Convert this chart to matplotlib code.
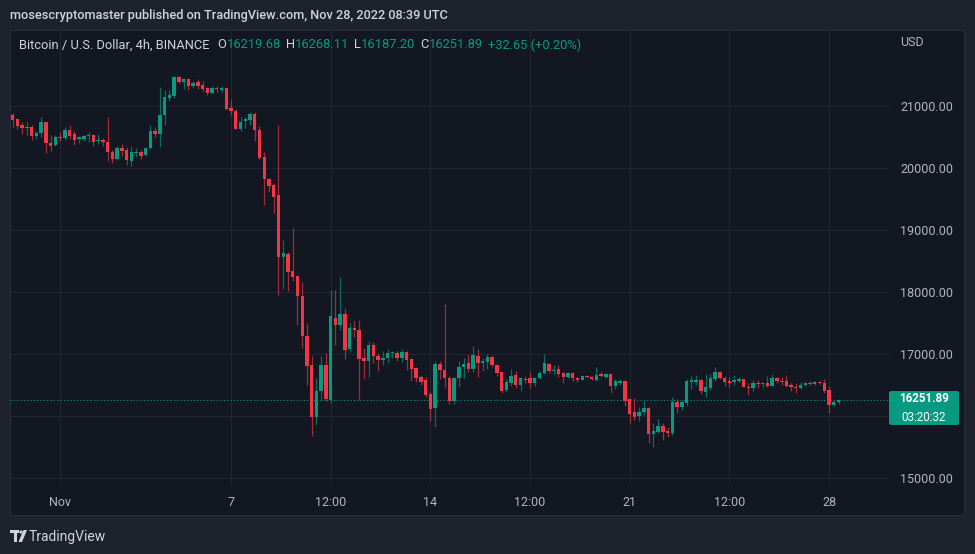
import matplotlib
matplotlib.use("Agg")
import matplotlib.pyplot as plt
from matplotlib.patches import Rectangle, FancyBboxPatch, Polygon, Circle
import numpy as np
import pandas as pd

# ---------------- data ----------------
start_time = "2022-10-30 08:00"
opens = [20850, 20785, 20694, 20656, 20646, 20506, 20554, 20731, 20399, 20366,
         20495, 20474, 20608, 20538, 20463, 20463, 20501, 20527, 20431, 20452,
         20409, 20259, 20141, 20313, 20286, 20114, 20232, 20248, 20205, 20313,
         20597, 20543, 20850, 21118, 21161, 21456, 21376, 21430, 21311, 21376,
         21333, 21279, 21204, 21279, 21255, 21274, 20962, 20919, 20624, 20753,
         20769, 20866, 20608, 20168, 19819, 19722, 19551, 18558, 18611, 18332,
         18257, 17930, 17286, 16814, 15979, 16403, 16825, 16262, 17581, 17464,
         17635, 17072, 17420, 17393, 16928, 16891, 17143, 16971, 16902, 16928,
         17009, 17009, 16928, 17036, 16918, 16767, 16622, 16580, 16349, 16123,
         16837, 16741, 16617, 16247, 16606, 16794, 16848, 16751, 16966, 16848,
         16875, 16955, 16821, 16703, 16419, 16537, 16660, 16499, 16601, 16606,
         16526, 16617, 16687, 16837, 16730, 16751, 16698, 16633, 16698, 16617,
         16580, 16644, 16633, 16580, 16671, 16622, 16676, 16488, 16526, 16564,
         16274, 16070, 15995, 16070, 16123, 15705, 15748, 15839, 15758, 15721,
         16231, 16150, 16215, 16553, 16553, 16580, 16392, 16456, 16590, 16708,
         16617, 16569, 16542, 16569, 16590, 16472, 16445, 16537, 16515, 16526,
         16488, 16617, 16564, 16564, 16499, 16472, 16445, 16499, 16537, 16515,
         16547, 16537, 16419, 16172, 16219.68]
highs = [20882, 20796, 20731, 20742, 20688, 20597, 20823, 20742, 20527, 20527,
         20581, 20651, 20688, 20597, 20517, 20527, 20570, 20543, 20543, 20474,
         20823, 20291, 20345, 20383, 20329, 20345, 20313, 20291, 20329, 20688,
         20662, 21306, 21242, 21242, 21483, 21483, 21440, 21440, 21387, 21419,
         21387, 21295, 21322, 21311, 21320, 21290, 21097, 20936, 20812, 20812,
         20903, 20903, 20678, 20259, 19830, 19754, 20694, 18842, 18638, 19025,
         18273, 18166, 17495, 16966, 16606, 16966, 17013, 18031, 18031, 18246,
         17742, 17500, 17527, 17554, 17090, 17213, 17197, 17009, 17052, 17073,
         17052, 17047, 17073, 17047, 16928, 16784, 16660, 16622, 16392, 16891,
         16891, 17803, 16644, 16622, 16891, 16928, 16982, 17127, 17084, 16928,
         16998, 16966, 16837, 16714, 16590, 16762, 16730, 16622, 16644, 16708,
         16622, 16730, 16998, 16848, 16821, 16821, 16714, 16714, 16708, 16633,
         16655, 16655, 16644, 16794, 16708, 16698, 16698, 16590, 16590, 16580,
         16285, 16285, 16140, 16247, 16140, 15882, 15946, 15882, 15818, 16301,
         16268, 16258, 16590, 16644, 16665, 16590, 16676, 16676, 16784, 16719,
         16644, 16622, 16655, 16622, 16601, 16537, 16580, 16580, 16547, 16644,
         16676, 16633, 16633, 16660, 16526, 16526, 16547, 16547, 16558, 16558,
         16558, 16590, 16483, 16247, 16268.11]
lows = [20651, 20624, 20544, 20527, 20447, 20463, 20490, 20237, 20275, 20345,
        20436, 20452, 20463, 20366, 20399, 20436, 20420, 20356, 20377, 20345,
        20103, 20071, 20125, 20184, 20044, 20034, 20168, 20141, 20194, 20302,
        20490, 20329, 20688, 21080, 21123, 21365, 21258, 21242, 21279, 21268,
        21225, 21172, 21188, 21215, 21215, 20930, 20850, 20620, 20597, 20640,
        20689, 20425, 20141, 19390, 19615, 19272, 17941, 18042, 18021, 18182,
        17468, 17093, 16503, 15683, 15855, 16234, 16234, 16207, 17142, 17393,
        16916, 17029, 17270, 16258, 16590, 16623, 16848, 16730, 16821, 16848,
        16928, 16886, 16875, 16741, 16569, 16553, 16499, 16311, 15925, 15818,
        16590, 16462, 16188, 16193, 16472, 16606, 16714, 16714, 16622, 16730,
        16751, 16794, 16644, 16376, 16392, 16483, 16445, 16408, 16537, 16445,
        16483, 16590, 16676, 16687, 16676, 16622, 16537, 16606, 16569, 16547,
        16574, 16612, 16580, 16569, 16622, 16606, 16365, 16429, 16499, 16161,
        15882, 15936, 15914, 16016, 15571, 15496, 15732, 15614, 15657, 15694,
        16043, 16097, 16161, 16429, 16499, 16349, 16311, 16419, 16569, 16601,
        16483, 16472, 16504, 16547, 16461, 16338, 16408, 16445, 16472, 16472,
        16483, 16526, 16499, 16472, 16408, 16376, 16429, 16483, 16499, 16499,
        16515, 16376, 16054, 16161, 16187.20]
closes = [20769, 20678, 20640, 20635, 20517, 20554, 20731, 20393, 20356, 20495,
          20474, 20608, 20506, 20452, 20490, 20501, 20527, 20420, 20452, 20409,
          20248, 20141, 20313, 20275, 20125, 20248, 20259, 20184, 20318, 20597,
          20543, 20855, 21134, 21172, 21456, 21376, 21430, 21311, 21365, 21322,
          21258, 21204, 21279, 21258, 21275, 20936, 20919, 20624, 20742, 20785,
          20866, 20608, 20152, 19819, 19711, 19524, 18558, 18622, 18327, 18246,
          17925, 17281, 16803, 15979, 16408, 16814, 16278, 17603, 17464, 17646,
          17061, 17420, 17377, 16926, 16891, 17143, 16966, 16902, 16939, 17009,
          17025, 16928, 17036, 16902, 16751, 16617, 16553, 16338, 16107, 16837,
          16741, 16606, 16247, 16617, 16794, 16837, 16751, 16982, 16848, 16891,
          16955, 16821, 16698, 16408, 16553, 16644, 16499, 16606, 16580, 16526,
          16617, 16687, 16848, 16730, 16741, 16676, 16622, 16698, 16606, 16580,
          16644, 16622, 16590, 16665, 16644, 16676, 16483, 16564, 16569, 16247,
          16032, 15989, 16070, 16123, 15710, 15764, 15839, 15737, 15732, 16231,
          16150, 16231, 16564, 16574, 16580, 16408, 16462, 16606, 16708, 16617,
          16553, 16537, 16580, 16590, 16472, 16445, 16537, 16515, 16537, 16488,
          16606, 16564, 16547, 16488, 16461, 16445, 16499, 16537, 16515, 16547,
          16526, 16408, 16172, 16225, 16251.89]

price_ticks = [15000, 16000, 17000, 18000, 19000, 20000, 21000]
time_tick_times = ["2022-11-01 00:00", "2022-11-07 00:00", "2022-11-10 12:00",
                   "2022-11-14 00:00", "2022-11-17 12:00", "2022-11-21 00:00",
                   "2022-11-24 12:00", "2022-11-28 00:00"]
time_tick_labels = ["Nov", "7", "12:00", "14", "12:00", "21", "12:00", "28"]
last_price = 16251.89
countdown = "03:20:32"
header = "mosescryptomaster published on TradingView.com, Nov 28, 2022 08:39 UTC"
symbol = "Bitcoin / U.S. Dollar, 4h, BINANCE"
ohlc_labels = ["O", "H", "L", "C"]
ohlc_values = ["16219.68", "16268.11", "16187.20", "16251.89"]
change_text = "+32.65 (+0.20%)"

# ---------------- style ----------------
OUTER = "#1e222d"
PANEL = "#131722"
BORDER = "#2a2e39"
GRID = "#222631"
UP = "#089981"
DOWN = "#f23645"
TXT = "#d1d4dc"
AXT = "#b2b5be"
FONT = "Roboto"
plt.rcParams["font.family"] = [FONT, "DejaVu Sans"]

W, H = 975, 554
fig = plt.figure(figsize=(W / 100, H / 100), dpi=100, facecolor=OUTER)

# background panel
bg = fig.add_axes([0, 0, 1, 1], zorder=-10)
bg.set_xlim(0, W); bg.set_ylim(H, 0); bg.axis("off")
bg.add_patch(Rectangle((10, 30), 954, 485, facecolor=PANEL, edgecolor=BORDER, lw=0.8))

# main chart axes
ax = fig.add_axes([10 / W, 1 - 485 / H, 879 / W, 455 / H], zorder=0)
ax.set_facecolor("none")
for s in ax.spines.values():
    s.set_visible(False)

times = pd.date_range(start_time, periods=len(opens), freq="4h")
x = np.arange(len(times))
o = np.array(opens); h = np.array(highs); l = np.array(lows); c = np.array(closes)
up = c >= o
cols = np.where(up, UP, DOWN)
ax.vlines(x, l, h, colors=cols, lw=0.9, alpha=0.65, zorder=2)
body_h = np.maximum(np.abs(c - o), 14)
body_b = np.minimum(o, c)
ax.bar(x, body_h, bottom=body_b, width=0.72, color=cols, lw=0, zorder=3)

ax.set_ylim(14889, 22216)
ax.set_xlim(-0.57, 184.64)

tick_pos = times.get_indexer(pd.to_datetime(time_tick_times))
ax.set_xticks(tick_pos)
ax.set_xticklabels(time_tick_labels)
ax.yaxis.tick_right()
ax.set_yticks(price_ticks)
# the last-price tag covers the price label nearest to it
ax.set_yticklabels(["" if abs(v - last_price) < 400 else f"{v:.2f}" for v in price_ticks])
ax.tick_params(axis="y", length=0, pad=8, labelsize=9, labelcolor=AXT)
ax.tick_params(axis="x", length=0, pad=8, labelsize=9, labelcolor=AXT)
ax.grid(True, color=GRID, lw=0.8)
ax.set_axisbelow(True)
ax.axhline(last_price, color=UP, lw=0.8, ls=(0, (1, 2)), zorder=1)

# overlay for texts and price tag
ov = fig.add_axes([0, 0, 1, 1], zorder=10)
ov.set_xlim(0, W); ov.set_ylim(H, 0); ov.axis("off")
ov.patch.set_visible(False)

ov.add_patch(FancyBboxPatch((889, 391), 70, 34, boxstyle="round,pad=0,rounding_size=2",
                            facecolor=UP, edgecolor="none"))
ov.text(924, 399, f"{last_price:.2f}", color="white", ha="center", va="center",
        fontsize=8.4, fontweight="bold")
ov.text(924, 417.5, countdown, color="white", ha="center", va="center", fontsize=8.4)
ov.text(900, 43, "USD", color=AXT, ha="left", va="center", fontsize=9)

ov.text(10, 16, header, color=TXT, ha="left", va="center", fontsize=9.2, fontweight="medium")

# legend line
fig.canvas.draw()
r = fig.canvas.get_renderer()
pieces = [(symbol, TXT, 8)]
for lab, val in zip(ohlc_labels, ohlc_values):
    pieces.append((lab, TXT, 0))
    pieces.append((val, UP, 5))
pieces.append((change_text, UP, 0))
cx = 19
for txt, col, gap in pieces:
    t = ov.text(cx, 45, txt, color=col, ha="left", va="center", fontsize=9.3)
    bb = t.get_window_extent(r)
    cx += bb.width + gap

# TradingView logo
ov.add_patch(Polygon([(10, 530), (19, 530), (19, 533), (16.5, 533), (16.5, 542), (13.5, 542),
                      (13.5, 533), (10, 533)], closed=True, facecolor=TXT, edgecolor="none"))
ov.add_patch(Circle((21, 532), 1.6, facecolor=TXT, edgecolor="none"))
ov.add_patch(Polygon([(23.5, 530), (27, 530), (22, 542), (18.5, 542)], closed=True,
                     facecolor=TXT, edgecolor="none"))
ov.text(29, 536.5, "TradingView", color=TXT, ha="left", va="center", fontsize=10)

fig.savefig("out.png", dpi=100, facecolor=OUTER)
